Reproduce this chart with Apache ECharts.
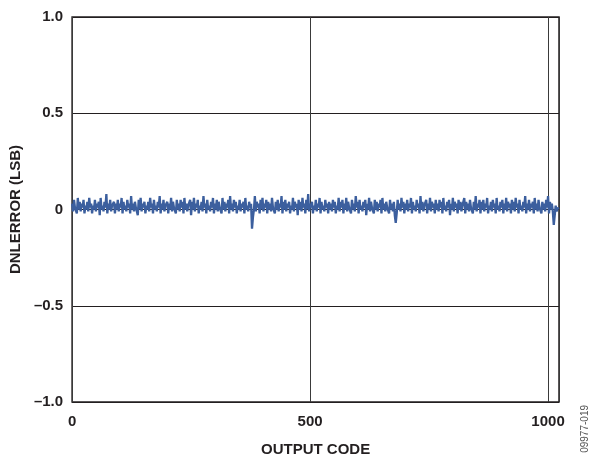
<!DOCTYPE html>
<html>
<head>
<meta charset="utf-8">
<script src="https://cdn.jsdelivr.net/npm/echarts@6/dist/echarts.min.js"></script>
<style>html,body{margin:0;padding:0;background:#fff;}#c{width:597px;height:462px;}</style>
</head>
<body>
<div id="c"></div>
<script>
// DNL error (LSB) read every 2nd output code, codes 0..1022
var codeStep = 2;
var dnlValues = [
0.03,-0.01,0.05,0.01,0.02,-0.02,0.06,0.00,0.04,-0.01,0.03,0.01,0.05,-0.02,0.02,0.00,
0.04,-0.01,0.06,0.01,0.03,-0.02,0.02,0.00,0.05,-0.01,0.03,0.01,0.04,-0.03,0.06,0.00,
0.02,-0.01,0.04,0.01,0.08,-0.02,0.03,0.00,0.05,-0.01,0.02,0.01,0.04,-0.02,0.03,0.00,
0.05,-0.01,0.03,0.01,0.06,-0.02,0.04,0.00,0.02,-0.01,0.05,0.01,0.03,-0.02,0.07,0.00,
0.03,-0.01,0.04,0.01,0.02,-0.03,0.05,0.00,0.06,-0.01,0.03,0.01,0.04,-0.02,0.02,0.00,
0.04,-0.01,0.06,0.01,0.03,-0.02,0.05,0.00,0.02,-0.01,0.04,0.01,0.07,-0.02,0.03,0.00,
0.05,-0.01,0.02,0.01,0.04,-0.02,0.03,0.00,0.06,-0.01,0.04,0.01,0.02,-0.02,0.05,0.00,
0.03,-0.01,0.05,0.01,0.04,-0.02,0.06,0.00,0.03,-0.01,0.02,0.01,0.05,-0.03,0.04,0.00,
0.06,-0.01,0.03,0.01,0.05,-0.02,0.02,0.00,0.04,-0.01,0.07,0.01,0.03,-0.02,0.05,0.00,
0.02,-0.01,0.04,0.01,0.06,-0.02,0.03,0.00,0.05,-0.01,0.04,0.01,0.02,-0.02,0.06,0.00,
0.04,-0.01,0.03,0.01,0.05,-0.02,0.07,0.00,0.03,-0.01,0.05,0.01,0.04,-0.02,0.02,0.00,
0.05,-0.01,0.03,0.01,0.04,-0.02,0.06,0.00,0.02,-0.01,0.04,0.01,0.03,-0.10,-0.04,0.00,
0.07,-0.01,0.04,0.01,0.03,-0.02,0.05,0.00,0.06,-0.01,0.03,0.01,0.05,-0.02,0.04,0.00,
0.03,-0.01,0.06,0.01,0.02,-0.02,0.04,0.00,0.05,-0.01,0.03,0.01,0.07,-0.02,0.04,0.00,
0.05,-0.01,0.03,0.01,0.04,-0.02,0.02,0.00,0.06,-0.01,0.04,0.01,0.03,-0.03,0.05,0.00,
0.04,-0.01,0.06,0.01,0.03,-0.02,0.05,0.00,0.08,-0.01,0.03,0.01,0.04,-0.02,0.02,0.00,
0.05,-0.01,0.03,0.01,0.06,-0.02,0.04,0.00,0.02,-0.01,0.05,0.01,0.03,-0.02,0.04,0.00,
0.03,-0.01,0.05,0.01,0.04,-0.02,0.02,0.00,0.06,-0.01,0.04,0.01,0.05,-0.02,0.03,0.00,
0.06,-0.01,0.04,0.01,0.02,-0.02,0.05,0.00,0.03,-0.01,0.07,0.01,0.04,-0.02,0.05,0.00,
0.02,-0.01,0.04,0.01,0.05,-0.03,0.03,0.00,0.06,-0.01,0.04,0.01,0.02,-0.02,0.05,0.00,
0.04,-0.01,0.03,0.01,0.05,-0.02,0.06,0.00,0.03,-0.01,0.04,0.01,0.02,-0.02,0.05,0.00,
0.03,-0.01,0.04,-0.03,-0.07,-0.02,0.05,0.00,0.03,-0.01,0.06,0.01,0.04,-0.02,0.03,0.00,
0.05,-0.01,0.03,0.01,0.06,-0.02,0.04,0.00,0.02,-0.01,0.05,0.01,0.03,-0.02,0.07,0.00,
0.04,-0.01,0.02,0.01,0.05,-0.02,0.03,0.00,0.06,-0.01,0.04,0.01,0.03,-0.02,0.05,0.00,
0.03,-0.01,0.05,0.01,0.04,-0.02,0.06,0.00,0.02,-0.01,0.04,0.01,0.05,-0.03,0.03,0.00,
0.06,-0.01,0.04,0.01,0.03,-0.02,0.05,0.00,0.04,-0.01,0.02,0.01,0.06,-0.02,0.04,0.00,
0.03,-0.01,0.05,0.01,0.02,-0.02,0.04,0.00,0.07,-0.01,0.03,0.01,0.05,-0.02,0.04,0.00,
0.05,-0.01,0.03,0.01,0.06,-0.02,0.02,0.00,0.04,-0.01,0.05,0.01,0.03,-0.02,0.06,0.00,
0.02,-0.01,0.04,0.01,0.05,-0.02,0.03,0.00,0.06,-0.01,0.04,0.01,0.03,-0.02,0.05,0.00,
0.04,-0.01,0.06,0.01,0.03,-0.02,0.05,0.00,0.02,-0.01,0.04,0.01,0.07,-0.02,0.03,0.00,
0.05,-0.01,0.03,0.01,0.04,-0.02,0.06,0.00,0.03,-0.01,0.05,0.01,0.02,-0.02,0.04,0.00,
0.03,-0.01,0.05,0.01,0.07,-0.02,0.04,0.00,0.03,-0.01,-0.08,-0.03,0.02,-0.01,0.01,0.00
];
var xTicks = [0, 500, 1000];
var yTicks = [-1.0, -0.5, 0, 0.5, 1.0];
var xTitle = 'OUTPUT CODE';
var yTitle = 'DNLERROR (LSB)';
var figureId = '09977-019';

var seriesData = dnlValues.map(function (v, i) { return [i * codeStep, v]; });
var FONT = '"Liberation Sans", Arial, sans-serif';

var chart = echarts.init(document.getElementById('c'), null, {renderer: 'canvas'});
chart.setOption({
  animation: false,
  backgroundColor: '#ffffff',
  grid: {left: 72, right: 38, top: 17, bottom: 57, show: true, borderColor: '#231f20', borderWidth: 1.5, backgroundColor: 'transparent'},
  xAxis: {
    type: 'value', min: 0, max: 1023, interval: 500,
    name: xTitle, nameLocation: 'middle', nameGap: 40,
    nameTextStyle: {fontFamily: FONT, fontWeight: 'bold', fontSize: 15, color: '#231f20'},
    axisLine: {show: false}, axisTick: {show: false},
    axisLabel: {margin: 12, fontFamily: FONT, fontWeight: 'bold', fontSize: 15, color: '#231f20',
      formatter: function (v) { return xTicks.indexOf(v) >= 0 ? String(v) : ''; }},
    splitLine: {show: true, lineStyle: {color: '#3a3a3a', width: 1}}
  },
  yAxis: {
    type: 'value', min: -1, max: 1, interval: 0.5,
    name: yTitle, nameLocation: 'middle', nameGap: 44,
    nameTextStyle: {fontFamily: FONT, fontWeight: 'bold', fontSize: 15, color: '#231f20'},
    axisLine: {show: false}, axisTick: {show: false},
    axisLabel: {margin: 9, fontFamily: FONT, fontWeight: 'bold', fontSize: 15, color: '#231f20',
      formatter: function (v) {
        if (yTicks.indexOf(v) < 0) return '';
        if (v === 0) return '0';
        return (v < 0 ? '\u2013' : '') + Math.abs(v).toFixed(1);
      }},
    splitLine: {show: true, lineStyle: {color: '#231f20', width: 1}}
  },
  graphic: [{
    type: 'text', left: 580, top: 405, rotation: Math.PI / 2,
    style: {text: figureId, fontFamily: FONT, fontSize: 10, fill: '#555555'}
  }],
  series: [{
    type: 'line', data: seriesData, showSymbol: false, symbol: 'none',
    lineStyle: {color: '#3c5f9e', width: 2.3}
  }]
});
</script>
</body>
</html>
